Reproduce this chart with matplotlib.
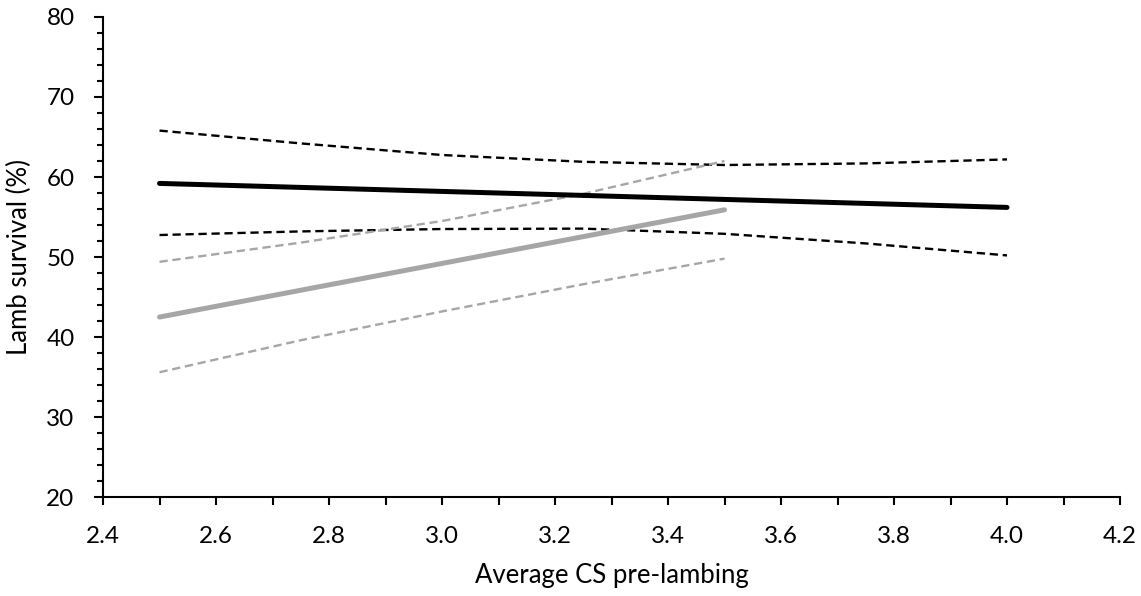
import matplotlib.pyplot as plt
import matplotlib.ticker as mticker
import numpy as np

plt.rcParams['font.family'] = ['Lato', 'DejaVu Sans']

# black: fitted line and confidence band
x_black = [2.5, 2.75, 3.0, 3.25, 3.5, 3.75, 4.0]
mean_black = [59.2, 58.7, 58.2, 57.7, 57.2, 56.7, 56.2]
upper_black = [65.8, 64.2, 62.75, 61.9, 61.5, 61.7, 62.2]
lower_black = [52.75, 53.2, 53.5, 53.55, 52.9, 51.7, 50.2]

# grey: fitted line and confidence band
x_grey = [2.5, 2.75, 3.0, 3.25, 3.5]
mean_grey = [42.5, 45.85, 49.2, 52.55, 55.9]
upper_grey = [49.4, 51.8, 54.5, 57.9, 62.0]
lower_grey = [35.6, 39.6, 43.2, 46.6, 49.8]

fig = plt.figure(figsize=(11.41, 5.96), dpi=100)
ax = fig.add_axes([0.0903, 0.166, 0.8913, 0.8055])

grey = '#a6a6a6'
ax.plot(x_black, upper_black, color='black', lw=1.7, dashes=(3.5, 2))
ax.plot(x_black, lower_black, color='black', lw=1.7, dashes=(3.5, 2))
ax.plot(x_grey, upper_grey, color=grey, lw=1.7, dashes=(3.5, 2))
ax.plot(x_grey, lower_grey, color=grey, lw=1.7, dashes=(3.5, 2))
ax.plot(x_black, mean_black, color='black', lw=3.6, solid_capstyle='round')
ax.plot(x_grey, mean_grey, color=grey, lw=3.6, solid_capstyle='round')

ax.set_xlim(2.4, 4.2)
ax.set_ylim(20, 80)
ax.xaxis.set_major_locator(mticker.MultipleLocator(0.2))
ax.xaxis.set_minor_locator(mticker.MultipleLocator(0.1))
ax.xaxis.set_major_formatter(mticker.FormatStrFormatter('%.1f'))
ax.yaxis.set_major_locator(mticker.MultipleLocator(10))
ax.yaxis.set_minor_locator(mticker.MultipleLocator(2))

for s in ['top', 'right']:
    ax.spines[s].set_visible(False)
for s in ['left', 'bottom']:
    ax.spines[s].set_linewidth(1.5)

ax.tick_params(axis='both', which='major', direction='out', length=6, width=1.5,
               labelsize=17.5)
ax.tick_params(axis='both', which='minor', direction='out', length=4.5, width=1.5)
ax.tick_params(axis='x', which='both', length=5.5, pad=15)
ax.tick_params(axis='y', which='major', length=6.5, pad=14)

ax.set_xlabel('Average CS pre-lambing', fontsize=18.5, labelpad=12)
ax.set_ylabel('Lamb survival (%)', fontsize=18.5, labelpad=10)

fig.savefig('out.png', dpi=100)
